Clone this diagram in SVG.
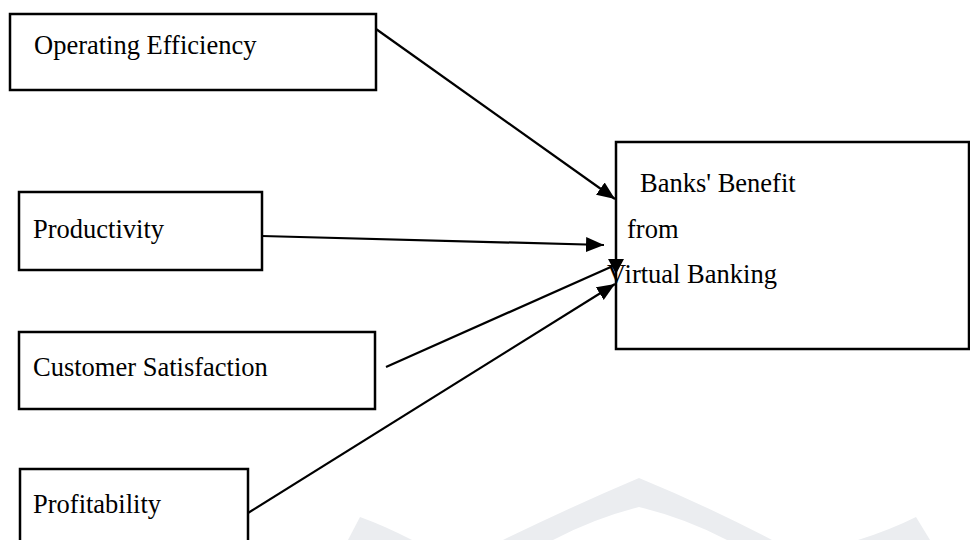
<svg xmlns="http://www.w3.org/2000/svg" width="970" height="540" viewBox="0 0 970 540">
<defs>
<style>
.box{fill:#fff;stroke:#000;stroke-width:2.5}
.lbl{font-family:"Liberation Serif","Times New Roman",serif;font-size:26.5px;fill:#000}
.conn{stroke:#000;stroke-width:2.2;fill:none}
.wm{fill:#ebedf0;stroke:none}
</style>
<marker id="arr" markerUnits="userSpaceOnUse" markerWidth="20" markerHeight="16" refX="18" refY="7.5" orient="auto">
<path d="M0,0 L18,7.5 L0,15 z" fill="#000"/>
</marker>
</defs>
<rect width="970" height="540" fill="#fff"/>
<g id="watermark">
<path class="wm" d="M348,540 L360,517 Q385,526 412,540 Z"/>
<path class="wm" d="M503,540 Q575,505 639,478 Q705,505 772,540 L727,540 Q685,518 639,507 Q595,518 553,540 Z"/>
<path class="wm" d="M858,540 Q890,530 916,517 L930,540 Z"/>
</g>
<g id="connectors">
<line class="conn" x1="376" y1="29" x2="615" y2="199" marker-end="url(#arr)"/>
<line class="conn" x1="262" y1="236" x2="604" y2="245" marker-end="url(#arr)"/>
<line class="conn" x1="386" y1="367" x2="613" y2="266"/>
<polygon points="608,259 624,259 616,274" fill="#000"/>
<line class="conn" x1="248" y1="513" x2="615" y2="284" marker-end="url(#arr)"/>
</g>
<g id="operating-efficiency">
<rect class="box" x="10" y="14" width="366" height="76"/>
<text class="lbl" x="34" y="54">Operating Efficiency</text>
</g>
<g id="productivity">
<rect class="box" x="19" y="192" width="243" height="78"/>
<text class="lbl" x="33" y="238">Productivity</text>
</g>
<g id="customer-satisfaction">
<rect class="box" x="19" y="332" width="356" height="77"/>
<text class="lbl" x="33" y="376">Customer Satisfaction</text>
</g>
<g id="profitability">
<rect class="box" x="20" y="469" width="228" height="80"/>
<text class="lbl" x="33" y="513">Profitability</text>
</g>
<g id="banks-benefit">
<rect class="box" x="616" y="142" width="353" height="207" style="fill:none"/>
<text class="lbl" x="640" y="192">Banks' Benefit</text>
<text class="lbl" x="627" y="238">from</text>
<text class="lbl" x="607" y="283">Virtual Banking</text>
</g>
</svg>
